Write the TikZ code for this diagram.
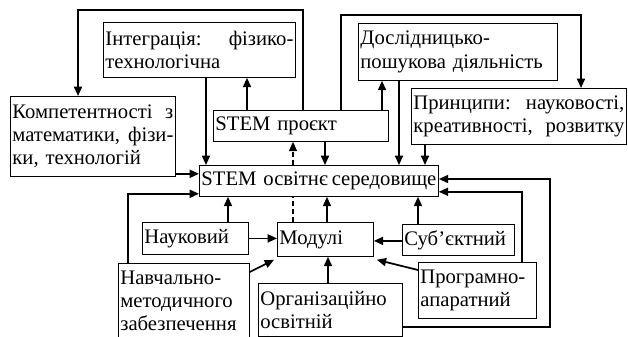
\documentclass[tikz,border=0pt]{standalone}
\usepackage{fontspec}
\setmainfont{Liberation Serif}
\usetikzlibrary{arrows.meta,calc}
\begin{document}
\begin{tikzpicture}[x=0.75pt,y=-0.75pt,
  box/.style={draw,line width=0.6pt,anchor=north west,inner sep=1.5pt,align=left,
    font=\fontsize{15.5pt}{17.4pt}\selectfont},
  arr/.style={line width=1.3pt,-{Triangle[length=7pt,width=6pt]}},
  dashline/.style={line width=1.1pt,dash pattern=on 3.5pt off 2.5pt}]
\useasboundingbox (0,0) rectangle (628,336);
\node[box,minimum width=144pt,minimum height=41.25pt,text width=141pt] (integ) at (103,22) {Інтеграція:\hfill фізико-\\технологічна};
\node[box,minimum width=123.75pt,minimum height=60pt,text width=120.75pt] (komp) at (10,96) {Компетентності\hfill з\\математики,\hfill фізи-\\ки, технологій};
\node[box,minimum width=131.25pt,minimum height=23.25pt,text width=128.25pt] (proj) at (213,110) {STEM проєкт};
\node[box,minimum width=149.25pt,minimum height=42.75pt,text width=146.25pt] (dosl) at (358,23) {Дослідницько-\\пошукова діяльність};
\node[box,minimum width=161.25pt,minimum height=42pt,text width=158.25pt] (prin) at (411,88) {Принципи:\hfill науковості,\\креативності,\hfill розвитку};
\node[box,minimum width=179.25pt,minimum height=23.25pt,text width=176.25pt] (env) at (199,165) {STEM освітнє\hfill середовище};
\node[box,minimum width=79.5pt,minimum height=24pt,text width=76.5pt] (nauk) at (142,222) {Науковий};
\node[box,minimum width=72pt,minimum height=25.5pt,text width=69pt] (mod) at (277,222) {Модулі};
\node[box,minimum width=84pt,minimum height=23.25pt,text width=81pt] (subj) at (402,224) {Суб’єктний};
\node[box,minimum width=98.25pt,minimum height=56pt,text width=95.25pt] (navch) at (118,263) {Навчально-\\методичного\\забезпечення};
\node[box,minimum width=108pt,minimum height=40pt,text width=105pt] (org) at (258,283) {Організаційно\\освітній};
\node[box,minimum width=88.5pt,minimum height=42pt,text width=85.5pt] (prog) at (418,262) {Програмно-\\апаратний};
% connectors
\coordinate (t1) at (78,10);
\coordinate (t2) at (581,15);
\coordinate (t3) at (550,179);
\draw[arr] ($(proj.north west)+(90,0)$) |- (t1) -- (t1 |- komp.north);
\draw[arr] ($(integ.south west)+(103,0)$) coordinate (a) -- (a |- env.north);
\draw[arr] ($(proj.north west)+(34,0)$) coordinate (a) -- (a |- integ.south);
\draw[dashline,-{Triangle[length=7pt,width=6pt]}] ($(env.north west)+(94,0)$) coordinate (a) -- (a |- proj.south);
\draw[dashline] ($(mod.north west)+(16,0)$) coordinate (a) -- (a |- env.south);
\draw[arr] ($(proj.south west)+(112,0)$) coordinate (a) -- (a |- env.north);
\draw[arr] ($(proj.north west)+(128,0)$) |- (t2) -- (t2 |- prin.north);
\draw[arr] ($(proj.north west)+(169,0)$) coordinate (a) -- (a |- dosl.south);
\draw[arr] ($(dosl.south west)+(41,0)$) coordinate (a) -- (a |- env.north);
\draw[arr] ($(prin.south west)+(14,0)$) coordinate (a) -- (a |- env.north);
\draw[arr] ($(komp.south east)+(0,-3)$) coordinate (a) -- (a -| env.west);
\draw[arr] ($(navch.north west)+(10,0)$) |- ($(env.south west)+(0,-3)$);
\draw[arr] ($(nauk.north west)+(86,0)$) coordinate (a) -- (a |- env.south);
\draw[arr] (nauk.east) -- (nauk.east -| mod.west);
\draw[arr] ($(navch.north east)+(0,9)$) -- ($(mod.south west)+(-3,3)$);
\draw[arr] ($(mod.north west)+(50,0)$) coordinate (a) -- (a |- env.south);
\draw[arr] ($(subj.west)+(0,1)$) coordinate (a) -- (a -| mod.east);
\draw[arr] ($(subj.north west)+(16,0)$) coordinate (a) -- (a |- env.south);
\draw[arr] ($(prog.north west)+(0,8)$) -- ($(mod.south east)+(3,3)$);
\draw[arr] ($(org.north west)+(70,0)$) coordinate (a) -- (a |- mod.south);
\draw[arr] ($(prog.north west)+(104,0)$) |- ($(env.south east)+(0,-5)$);
\draw[arr] ($(org.north east)+(0,44)$) -| (t3) -- (t3 -| env.east);
\end{tikzpicture}
\end{document}
